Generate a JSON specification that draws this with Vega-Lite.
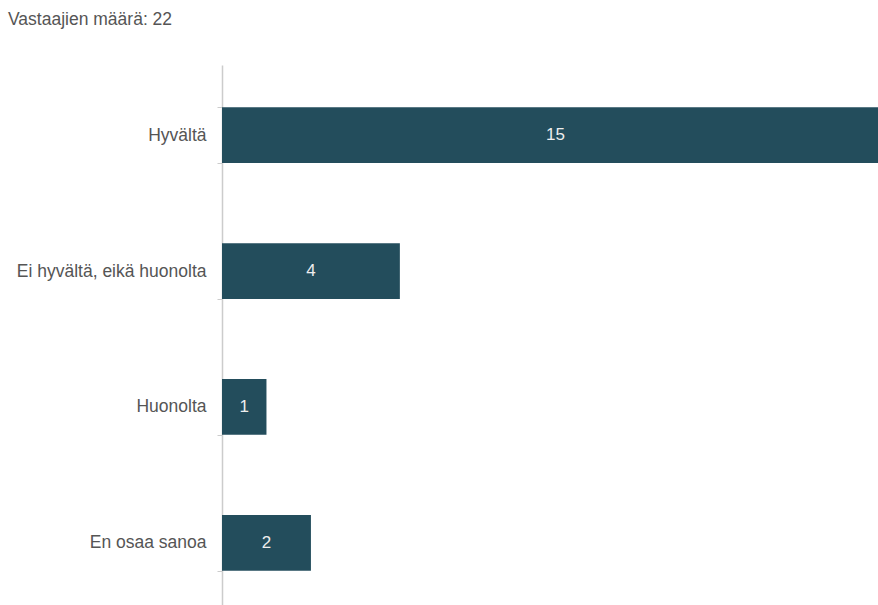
{
  "$schema": "https://vega.github.io/schema/vega-lite/v6.json",
  "width": 667,
  "height": 548,
  "autosize": {"type": "none"},
  "padding": {"left": 222, "top": 65, "right": 0, "bottom": 0},
  "background": "white",
  "title": {"text": "Vastaajien määrä: 22", "anchor": "start", "frame": "group", "dx": -214, "offset": 28, "font": "Liberation Sans", "fontSize": 17.5, "fontWeight": "normal", "color": "#555555"},
  "config": {"view": {"stroke": null}},
  "data": {"values": [
    {"vastaus": "Hyvältä", "lkm": 15},
    {"vastaus": "Ei hyvältä, eikä huonolta", "lkm": 4},
    {"vastaus": "Huonolta", "lkm": 1},
    {"vastaus": "En osaa sanoa", "lkm": 2}
  ]},
  "encoding": {
    "y": {"field": "vastaus", "type": "nominal", "sort": null,
      "scale": {"paddingInner": 0.59, "paddingOuter": 0.31},
      "axis": {"title": null, "domainColor": "#cccccc", "domainWidth": 1.5, "tickColor": "#cccccc", "tickSize": 5, "tickBand": "extent", "labelFont": "Liberation Sans", "labelFontSize": 17.5, "labelColor": "#555555", "labelPadding": 11, "labelLimit": 400, "grid": false}}
  },
  "layer": [
    {"mark": {"type": "bar", "color": "#234d5c"},
     "encoding": {"x": {"field": "lkm", "type": "quantitative", "scale": {"domain": [0, 15], "nice": false}, "axis": null}}},
    {"mark": {"type": "text", "color": "#eeeeee", "fontSize": 17, "font": "Liberation Sans"},
     "encoding": {"x": {"field": "lkm", "type": "quantitative", "stack": "zero", "bandPosition": 0.5}, "text": {"field": "lkm", "type": "quantitative"}}}
  ]
}
